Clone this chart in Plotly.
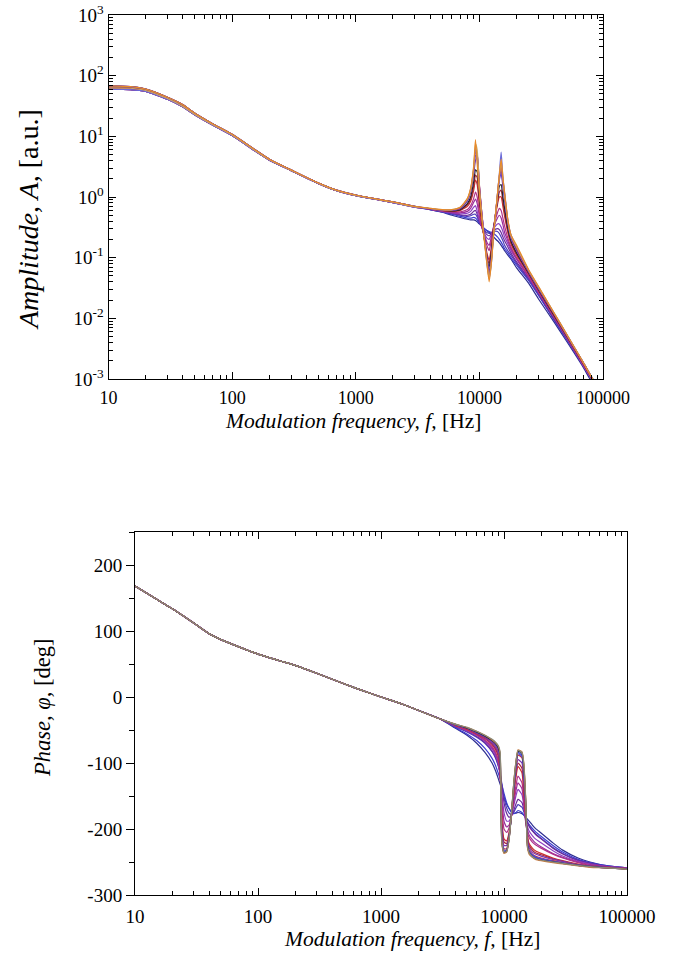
import plotly.graph_objects as go

# ---------------- data ----------------
freq_low = [10, 15, 20, 30, 40, 50, 70, 100, 150, 200, 300, 500, 700, 1000, 1500, 2000, 3000]
freq_high = [4000, 5000, 6000, 7000, 8000, 8500, 9000, 9300, 9600, 10000, 10500, 11000, 11500, 12000,
             12500, 13000, 14000, 14500, 15000, 15500, 16000, 17000, 18000, 20000, 25000, 30000,
             40000, 50000, 70000, 100000]

amp_low_a = [68, 66, 60, 44, 33, 24, 16, 10.8, 6.2, 4.2, 2.8, 1.7, 1.3, 1.08, 0.92, 0.83, 0.70]
amp_low_b = [63, 62, 57, 42, 31, 23, 15.5, 10.5, 6.0, 4.1, 2.75, 1.68, 1.28, 1.06, 0.91, 0.82, 0.69]
amp_low_c = [60, 59, 55, 41, 30.5, 22.5, 15.2, 10.3, 5.9, 4.05, 2.72, 1.66, 1.27, 1.05, 0.90, 0.81, 0.68]

amp_01 = [0.62, 0.56, 0.50, 0.46, 0.43, 0.42, 0.42, 0.41, 0.39, 0.36, 0.33, 0.30, 0.28, 0.26, 0.24, 0.22, 0.19, 0.175, 0.16, 0.145, 0.13, 0.11, 0.095, 0.068, 0.038, 0.021, 0.0088, 0.0044, 0.0015, 0.0004]
amp_02 = [0.62, 0.57, 0.52, 0.48, 0.45, 0.45, 0.46, 0.45, 0.42, 0.37, 0.33, 0.30, 0.28, 0.27, 0.26, 0.25, 0.22, 0.20, 0.18, 0.16, 0.14, 0.12, 0.10, 0.075, 0.042, 0.024, 0.0095, 0.0047, 0.0016, 0.0005]
amp_03 = [0.62, 0.57, 0.53, 0.50, 0.48, 0.49, 0.52, 0.52, 0.47, 0.38, 0.32, 0.28, 0.26, 0.25, 0.26, 0.27, 0.27, 0.25, 0.22, 0.19, 0.16, 0.13, 0.11, 0.08, 0.044, 0.025, 0.0098, 0.0048, 0.0016, 0.0005]
amp_04 = [0.63, 0.58, 0.54, 0.51, 0.50, 0.52, 0.58, 0.60, 0.52, 0.40, 0.32, 0.27, 0.24, 0.23, 0.25, 0.28, 0.30, 0.29, 0.26, 0.22, 0.19, 0.15, 0.12, 0.085, 0.046, 0.026, 0.010, 0.005, 0.0016, 0.0005]
amp_05 = [0.63, 0.58, 0.55, 0.53, 0.54, 0.58, 0.68, 0.72, 0.58, 0.42, 0.31, 0.25, 0.21, 0.20, 0.24, 0.30, 0.36, 0.36, 0.32, 0.27, 0.22, 0.17, 0.13, 0.095, 0.048, 0.027, 0.0105, 0.0051, 0.0016, 0.0005]
amp_06 = [0.63, 0.59, 0.56, 0.55, 0.58, 0.65, 0.82, 0.92, 0.78, 0.48, 0.31, 0.23, 0.18, 0.16, 0.22, 0.31, 0.45, 0.50, 0.45, 0.35, 0.26, 0.19, 0.14, 0.095, 0.049, 0.027, 0.0108, 0.0052, 0.0017, 0.0005]
amp_07 = [0.63, 0.59, 0.57, 0.57, 0.62, 0.72, 0.95, 1.2, 1.0, 0.55, 0.32, 0.22, 0.16, 0.13, 0.20, 0.32, 0.55, 0.65, 0.60, 0.45, 0.33, 0.21, 0.15, 0.10, 0.051, 0.028, 0.011, 0.0052, 0.0017, 0.0005]
amp_08 = [0.64, 0.60, 0.58, 0.60, 0.70, 0.85, 1.3, 1.9, 1.6, 0.75, 0.35, 0.20, 0.12, 0.09, 0.15, 0.30, 0.75, 1.0, 1.0, 0.70, 0.48, 0.26, 0.17, 0.11, 0.054, 0.029, 0.0112, 0.0053, 0.0017, 0.0005]
amp_09 = [0.64, 0.60, 0.59, 0.61, 0.74, 0.92, 1.5, 2.3, 2.1, 0.85, 0.37, 0.20, 0.11, 0.08, 0.13, 0.29, 0.82, 1.2, 1.3, 0.85, 0.55, 0.28, 0.18, 0.115, 0.055, 0.030, 0.0114, 0.0054, 0.0017, 0.0005]
amp_10 = [0.64, 0.60, 0.59, 0.62, 0.78, 1.0, 1.8, 2.8, 2.6, 1.0, 0.40, 0.20, 0.10, 0.07, 0.12, 0.28, 0.90, 1.5, 1.6, 1.0, 0.65, 0.30, 0.19, 0.12, 0.056, 0.030, 0.0115, 0.0055, 0.0018, 0.0005]
amp_11 = [0.64, 0.61, 0.60, 0.64, 0.85, 1.2, 2.4, 4.0, 4.5, 1.5, 0.50, 0.22, 0.10, 0.06, 0.10, 0.25, 1.0, 1.9, 2.4, 1.5, 0.90, 0.36, 0.21, 0.13, 0.058, 0.031, 0.012, 0.0056, 0.0018, 0.0005]
amp_12 = [0.64, 0.61, 0.60, 0.65, 0.88, 1.25, 2.6, 4.8, 4.8, 1.55, 0.50, 0.21, 0.095, 0.055, 0.095, 0.245, 1.05, 2.0, 2.8, 1.7, 0.95, 0.38, 0.22, 0.135, 0.059, 0.031, 0.012, 0.0056, 0.0018, 0.0005]
amp_13 = [0.64, 0.61, 0.61, 0.66, 0.90, 1.3, 2.8, 5.5, 5.0, 1.6, 0.50, 0.20, 0.09, 0.05, 0.09, 0.24, 1.1, 2.2, 3.2, 1.9, 1.1, 0.40, 0.23, 0.14, 0.060, 0.032, 0.012, 0.0057, 0.0018, 0.0005]
amp_14 = [0.64, 0.61, 0.61, 0.67, 0.92, 1.35, 3.0, 6.5, 4.2, 1.3, 0.45, 0.19, 0.08, 0.045, 0.08, 0.22, 1.1, 2.4, 5.5, 2.1, 1.2, 0.42, 0.24, 0.15, 0.062, 0.033, 0.0125, 0.0058, 0.0018, 0.0005]
amp_15 = [0.65, 0.62, 0.62, 0.68, 0.93, 1.35, 3.1, 7.5, 6.0, 1.4, 0.45, 0.19, 0.085, 0.045, 0.085, 0.23, 1.1, 2.2, 3.8, 2.0, 1.1, 0.40, 0.23, 0.15, 0.062, 0.033, 0.0125, 0.0058, 0.0018, 0.0005]
amp_16 = [0.65, 0.62, 0.62, 0.68, 0.95, 1.4, 3.3, 8.8, 3.5, 1.2, 0.42, 0.18, 0.08, 0.04, 0.08, 0.22, 1.1, 2.3, 4.2, 2.1, 1.15, 0.42, 0.24, 0.16, 0.064, 0.034, 0.0125, 0.0058, 0.0018, 0.0005]

phase_low = [168, 148, 134, 112, 96, 87, 76, 65, 55, 48, 36, 20, 10, 0, -11, -20, -33]

phase_01 = [-47, -58, -70, -84, -100, -111, -124, -132, -140, -151, -162, -169, -174, -176, -176, -175, -177, -179, -182, -185, -188, -194, -199, -206, -221, -232, -244, -250, -256, -259]
phase_02 = [-46, -56, -66, -78, -93, -103, -116, -124, -133, -146, -160, -169, -175, -177, -175, -172, -175, -179, -184, -189, -193, -199, -204, -211, -225, -235, -246, -251, -256, -259]
phase_03 = [-45, -53, -61, -70, -83, -92, -105, -116, -131, -152, -168, -176, -178, -175, -168, -163, -167, -174, -183, -190, -195, -202, -207, -214, -228, -237, -247, -252, -257, -259]
phase_04 = [-44, -52, -60, -69, -82, -90, -104, -116, -135, -160, -176, -182, -180, -172, -162, -155, -160, -170, -182, -190, -196, -203, -208, -215, -229, -238, -248, -252, -257, -259]
phase_05 = [-44, -51, -58, -67, -79, -87, -101, -118, -145, -175, -188, -188, -180, -165, -150, -140, -148, -165, -185, -196, -203, -210, -215, -221, -233, -241, -249, -253, -257, -259]
phase_06 = [-43, -50, -57, -66, -77, -85, -98, -118, -155, -188, -197, -194, -180, -160, -142, -130, -139, -160, -188, -201, -209, -216, -221, -227, -237, -243, -250, -254, -257, -260]
phase_07 = [-43, -50, -57, -65, -75, -83, -96, -118, -165, -200, -205, -198, -180, -155, -135, -120, -130, -155, -190, -205, -213, -220, -224, -229, -238, -244, -251, -255, -258, -260]
phase_08 = [-43, -49, -56, -63, -72, -79, -90, -112, -185, -215, -218, -205, -180, -148, -122, -105, -115, -145, -180, -210, -222, -229, -233, -237, -244, -248, -253, -256, -258, -260]
phase_09 = [-42, -48, -55, -62, -71, -77, -88, -108, -193, -220, -222, -208, -180, -145, -117, -100, -108, -138, -175, -212, -225, -232, -236, -239, -245, -249, -254, -256, -258, -260]
phase_10 = [-42, -48, -55, -62, -70, -76, -86, -105, -200, -225, -225, -210, -180, -142, -112, -95, -100, -130, -170, -215, -228, -235, -238, -241, -246, -249, -254, -256, -258, -260]
phase_11 = [-42, -48, -54, -61, -68, -73, -82, -98, -210, -230, -230, -212, -178, -138, -106, -88, -92, -120, -165, -218, -232, -238, -241, -244, -248, -251, -255, -257, -259, -260]
phase_12 = [-42, -47, -54, -60, -67, -72, -80, -95, -212, -232, -232, -213, -178, -136, -104, -86, -90, -116, -162, -220, -233, -239, -242, -245, -249, -251, -255, -257, -259, -260]
phase_13 = [-42, -47, -54, -60, -67, -71, -79, -92, -215, -234, -233, -214, -178, -135, -102, -84, -88, -112, -160, -222, -234, -240, -243, -246, -249, -252, -255, -257, -259, -261]
phase_14 = [-41, -47, -53, -59, -66, -70, -77, -88, -220, -236, -234, -215, -177, -132, -100, -82, -85, -105, -155, -225, -236, -242, -245, -247, -250, -252, -255, -257, -259, -261]
phase_15 = [-41, -46, -52, -58, -65, -69, -75, -85, -222, -237, -235, -216, -176, -130, -98, -80, -83, -100, -152, -228, -238, -243, -246, -248, -251, -253, -256, -258, -259, -261]
phase_16 = [-41, -46, -52, -58, -64, -68, -74, -83, -218, -235, -234, -215, -177, -131, -99, -81, -84, -102, -155, -226, -236, -242, -245, -247, -250, -252, -255, -257, -259, -261]

freq_ticks = [10, 100, 1000, 10000, 100000]
freq_tick_labels = ["10", "100", "1000", "10000", "100000"]
amp_ticks = [1e-3, 1e-2, 1e-1, 1e0, 1e1, 1e2, 1e3]
amp_tick_labels = ["10<sup>-3</sup>", "10<sup>-2</sup>", "10<sup>-1</sup>", "10<sup>0</sup>",
                   "10<sup>1</sup>", "10<sup>2</sup>", "10<sup>3</sup>"]
phase_ticks = [-300, -200, -100, 0, 100, 200]
phase_tick_labels = ["-300", "-200", "-100", "0", "100", "200"]

amp_curves = [amp_01, amp_02, amp_03, amp_04, amp_05, amp_06, amp_07, amp_08,
              amp_09, amp_10, amp_11, amp_12, amp_13, amp_14, amp_15, amp_16]
amp_lows = [amp_low_b, amp_low_c, amp_low_a, amp_low_b, amp_low_c, amp_low_a, amp_low_b, amp_low_c,
            amp_low_a, amp_low_b, amp_low_c, amp_low_a, amp_low_b, amp_low_c, amp_low_b, amp_low_a]
amp_colors = ["#2e2e90", "#3c3cd2", "#4b3cb8", "#6b2b9b", "#8e3fc2", "#9a2f9a", "#b0308a", "#cc2f2f",
              "#a8283a", "#252525", "#7a34b0", "#5050d8", "#c8283c", "#6a6ad8", "#c9a86a", "#e88a2a"]

phase_curves = [phase_01, phase_02, phase_03, phase_04, phase_05, phase_06, phase_07, phase_08,
                phase_09, phase_10, phase_11, phase_12, phase_13, phase_14, phase_15, phase_16]
phase_colors = ["#2e2e90", "#3c3cd2", "#4b3cb8", "#6b2b9b", "#8e3fc2", "#9a2f9a", "#b0308a", "#cc2f2f",
                "#a8283a", "#7a34b0", "#c8283c", "#5050d8", "#4646c8", "#202020", "#c87a40", "#8a8a7a"]

FONT = "Liberation Serif"
W, H = 676, 956


def px_x(p):
    return p / W


def px_y(p):
    return 1 - p / H


fig = go.Figure()

for lo, hi, col in zip(amp_lows, amp_curves, amp_colors):
    fig.add_trace(go.Scatter(x=freq_low + freq_high, y=lo + hi, mode="lines",
                             line=dict(color=col, width=1.2, shape="spline", smoothing=0.5),
                             xaxis="x", yaxis="y", showlegend=False, hoverinfo="skip"))

for hi, col in zip(phase_curves, phase_colors):
    fig.add_trace(go.Scatter(x=freq_low + freq_high, y=phase_low + hi, mode="lines",
                             line=dict(color=col, width=1.2, shape="spline", smoothing=0.5),
                             xaxis="x2", yaxis="y2", showlegend=False, hoverinfo="skip"))

common_axis = dict(showline=True, linecolor="black", linewidth=1, showgrid=False, zeroline=False,
                   tickcolor="black", tickwidth=1, automargin=False)

fig.update_layout(
    width=W, height=H,
    margin=dict(l=0, r=0, t=0, b=0, autoexpand=False),
    paper_bgcolor="white", plot_bgcolor="white",
    font=dict(family=FONT, color="black"),
    xaxis=dict(type="log", range=[1, 5], domain=[px_x(108.5), px_x(603)], anchor="y",
               tickmode="array", tickvals=freq_ticks, ticktext=freq_tick_labels,
               ticks="inside", ticklen=7, mirror="ticks", ticklabelstandoff=2,
               minor=dict(ticks="inside", ticklen=4, dtick="D1", tickcolor="black"),
               tickfont=dict(family=FONT, size=18, color="black"), **common_axis),
    yaxis=dict(type="log", range=[-3, 3], domain=[px_y(379), px_y(15)], anchor="x",
               tickmode="array", tickvals=amp_ticks, ticktext=amp_tick_labels,
               ticks="inside", ticklen=7, mirror="ticks",
               minor=dict(ticks="inside", ticklen=4, dtick="D1", tickcolor="black"),
               tickfont=dict(family=FONT, size=19, color="black"), **common_axis),
    xaxis2=dict(type="log", range=[1, 5], domain=[px_x(135), px_x(627)], anchor="y2",
                tickmode="array", tickvals=freq_ticks, ticktext=freq_tick_labels,
                ticks="inside", ticklen=7, mirror="ticks", ticklabelstandoff=4,
                minor=dict(ticks="inside", ticklen=4, dtick="D1", tickcolor="black"),
                tickfont=dict(family=FONT, size=19, color="black"), **common_axis),
    yaxis2=dict(range=[-300, 250], domain=[px_y(895), px_y(532)], anchor="x2",
                tickmode="array", tickvals=phase_ticks, ticktext=phase_tick_labels,
                ticks="outside", ticklen=8, mirror=True,
                minor=dict(ticks="outside", ticklen=5, dtick=50, tick0=0, tickcolor="black"),
                tickfont=dict(family=FONT, size=19, color="black"), **common_axis),
    yaxis3=dict(range=[-300, 250], overlaying="y2", side="right", anchor="x2",
                tickmode="array", tickvals=phase_ticks, showticklabels=False,
                ticks="inside", ticklen=8, showline=False, showgrid=False, zeroline=False,
                tickcolor="black", tickwidth=1, automargin=False,
                minor=dict(ticks="inside", ticklen=5, dtick=50, tick0=0, tickcolor="black")),
    annotations=[
        dict(text="<i>Amplitude, A,</i> [a.u.]", x=px_x(28), y=px_y(220), xref="paper", yref="paper",
             textangle=-90, showarrow=False, font=dict(family=FONT, size=28, color="black"),
             xanchor="center", yanchor="middle"),
        dict(text="<i>Modulation frequency, f,</i> [Hz]", x=px_x(353), y=px_y(421),
             xref="paper", yref="paper", showarrow=False,
             font=dict(family=FONT, size=21.5, color="black"), xanchor="center", yanchor="middle"),
        dict(text="<i>Phase, φ,</i> [deg]", x=px_x(42), y=px_y(708), xref="paper", yref="paper",
             textangle=-90, showarrow=False, font=dict(family=FONT, size=22.5, color="black"),
             xanchor="center", yanchor="middle"),
        dict(text="<i>Modulation frequency, f,</i> [Hz]", x=px_x(412), y=px_y(939),
             xref="paper", yref="paper", showarrow=False,
             font=dict(family=FONT, size=21.5, color="black"), xanchor="center", yanchor="middle"),
    ],
)

fig.write_html(
    "out.html",
    config={"displayModeBar": False},
    post_script="document.body.style.margin='0';document.body.style.overflow='hidden';"
                "document.documentElement.style.overflow='hidden';",
)
